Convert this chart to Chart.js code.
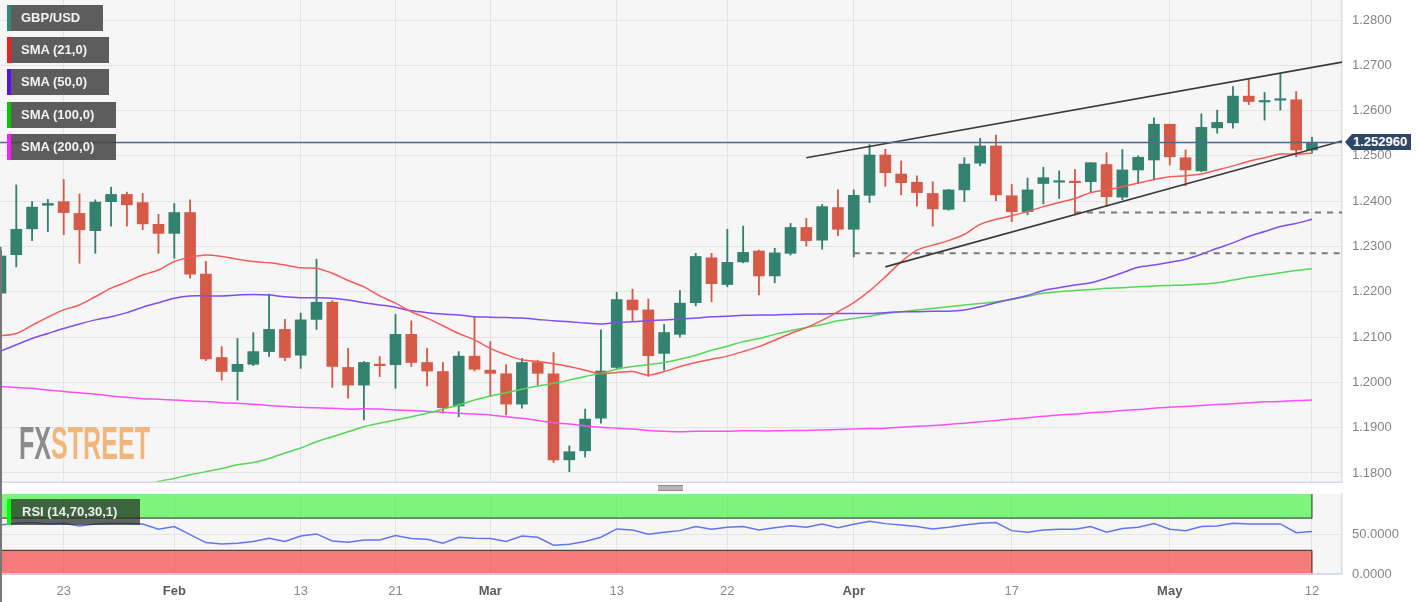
<!DOCTYPE html>
<html>
<head>
<meta charset="utf-8">
<script src="https://cdn.jsdelivr.net/npm/chart.js@4.4.0/dist/chart.umd.min.js"></script>
<style>
  body { margin:0; background:#fff; width:1421px; height:602px; overflow:hidden; position:relative; font-family:"Liberation Sans", Arial, sans-serif; }
  canvas { position:absolute; left:0; }
  #main { top:0; }
  #rsi { top:483px; }
  .tag { position:absolute; left:7px; height:26px; line-height:26px; background:rgba(70,70,70,0.87); color:#f2f2f2;
         font-weight:bold; font-size:13px; padding-left:10px; box-sizing:border-box; border-left:4px solid; white-space:nowrap; }
  #rsiTag { top:499px; width:133px; background:rgba(38,44,38,0.72); border-left-color:#00ff00; color:#eee; padding-left:11px; }
  #price { position:absolute; left:1345px; top:134px; width:66px; height:16px; line-height:16px; background:#2d4767; color:#fff;
           font-weight:bold; font-size:13px; padding-left:8px; box-sizing:border-box;
           clip-path:polygon(0 50%, 7px 0, 100% 0, 100% 100%, 7px 100%); }
  #handle { position:absolute; left:658px; top:485px; width:25px; height:6px; background:#b5b5b5;
            border-top:1px solid #8a8a8a; border-bottom:1px solid #8a8a8a; box-sizing:border-box; }
  #wm { position:absolute; left:19px; top:420px; font-family:"Liberation Sans Narrow", "Liberation Sans", sans-serif;
        font-weight:bold; font-size:46px; line-height:46px; transform-origin:0 0; white-space:nowrap; }
  #edge { position:absolute; left:0; top:250px; width:1.5px; height:352px; background:#777; }
</style>
</head>
<body>
<canvas id="main" width="1421" height="483"></canvas>
<canvas id="rsi" width="1421" height="119"></canvas>
<div id="wm"><span style="color:#8c8c8c">FX</span><span style="color:#f1b67c">STREET</span></div>
<div class="tag" style="top:5px;width:96px;border-left-color:#2e8b76">GBP/USD</div>
<div class="tag" style="top:37px;width:102px;border-left-color:#ff1a1a">SMA (21,0)</div>
<div class="tag" style="top:69px;width:102px;border-left-color:#5a10f0">SMA (50,0)</div>
<div class="tag" style="top:102px;width:109px;border-left-color:#00cc00">SMA (100,0)</div>
<div class="tag" style="top:134px;width:109px;border-left-color:#ff1aff">SMA (200,0)</div>
<div class="tag" id="rsiTag">RSI (14,70,30,1)</div>
<div id="price"></div>
<div id="handle"></div>
<div id="edge"></div>
<script>
// GBP/USD daily, 17 Jan - 12 May 2023
const days = [
  '01-17','01-18','01-19','01-20','01-23','01-24','01-25','01-26','01-27','01-30','01-31',
  '02-01','02-02','02-03','02-06','02-07','02-08','02-09','02-10','02-13','02-14','02-15','02-16','02-17','02-20','02-21','02-22','02-23','02-24','02-27','02-28',
  '03-01','03-02','03-03','03-06','03-07','03-08','03-09','03-10','03-13','03-14','03-15','03-16','03-17','03-20','03-21','03-22','03-23','03-24','03-27','03-28','03-29','03-30','03-31',
  '04-03','04-04','04-05','04-06','04-07','04-10','04-11','04-12','04-13','04-14','04-17','04-18','04-19','04-20','04-21','04-24','04-25','04-26','04-27','04-28',
  '05-01','05-02','05-03','05-04','05-05','05-08','05-09','05-10','05-11','05-12'
];
const opens = [
  1.2197,1.2282,1.2339,1.2391,1.2399,1.2373,1.2335,1.2399,1.2415,1.2397,1.2349,
  1.2329,1.2375,1.2239,1.2055,1.2024,1.2040,1.2068,1.2117,1.2060,1.2139,1.2177,1.2033,1.1994,1.2040,1.2039,1.2106,1.2044,1.2024,1.1948,1.2058,
  1.2027,1.2019,1.1952,1.2044,1.2019,1.1829,1.1849,1.1921,1.2033,1.2182,1.2160,1.2064,1.2106,1.2176,1.2275,1.2216,1.2266,1.2290,1.2235,1.2285,1.2342,1.2314,1.2386,
  1.2338,1.2413,1.2502,1.2460,1.2442,1.2417,1.2382,1.2425,1.2484,1.2522,1.2412,1.2377,1.2439,1.2442,1.2444,1.2443,1.2481,1.2409,1.2469,1.2491,
  1.2570,1.2496,1.2467,1.2562,1.2573,1.2632,1.2619,1.2623,1.2624,1.2513
];
const highs = [
  1.2299,1.2436,1.2399,1.2404,1.2448,1.2416,1.2403,1.2431,1.2420,1.2417,1.2371,
  1.2395,1.2403,1.2267,1.2079,1.2097,1.2110,1.2195,1.2139,1.2153,1.2272,1.2181,1.2075,1.2046,1.2057,1.2150,1.2136,1.2075,1.2044,1.2068,1.2145,
  1.2090,1.2039,1.2053,1.2049,1.2066,1.1860,1.1941,1.2116,1.2199,1.2206,1.2184,1.2128,1.2203,1.2285,1.2285,1.2338,1.2345,1.2292,1.2296,1.2351,1.2362,1.2393,1.2425,
  1.2425,1.2525,1.2515,1.2489,1.2456,1.2443,1.2426,1.2496,1.2539,1.2546,1.2437,1.2451,1.2475,1.2467,1.2470,1.2485,1.2507,1.2514,1.2500,1.2584,
  1.2570,1.2513,1.2593,1.2601,1.2653,1.2669,1.2640,1.2682,1.2642,1.2541
];
const lows = [
  1.2171,1.2255,1.2313,1.2333,1.2326,1.2263,1.2285,1.2345,1.2345,1.2337,1.2285,
  1.2274,1.2230,1.2048,1.2005,1.1961,1.2037,1.2057,1.2048,1.2031,1.2117,1.1989,1.1965,1.1917,1.2013,1.1987,1.2035,1.1992,1.1932,1.1924,1.2025,
  1.1969,1.1928,1.1943,1.1994,1.1823,1.1803,1.1835,1.1910,1.2030,1.2136,1.2013,1.2027,1.2100,1.2169,1.2178,1.2211,1.2264,1.2193,1.2220,1.2281,1.2301,1.2294,1.2324,
  1.2277,1.2397,1.2433,1.2414,1.2389,1.2345,1.2380,1.2399,1.2478,1.2401,1.2355,1.2370,1.2394,1.2406,1.2370,1.2419,1.2388,1.2403,1.2439,1.2447,
  1.2480,1.2434,1.2465,1.2550,1.2561,1.2613,1.2579,1.2601,1.2498,1.2506
];
const closes = [
  1.2279,1.2338,1.2387,1.2395,1.2375,1.2337,1.2398,1.2415,1.2392,1.2350,1.2329,
  1.2375,1.2239,1.2052,1.2024,1.2040,1.2068,1.2117,1.2055,1.2138,1.2177,1.2035,1.1994,1.2044,1.2037,1.2106,1.2044,1.2025,1.1944,1.2058,1.2029,
  1.2020,1.1952,1.2044,1.2020,1.1829,1.1847,1.1919,1.2025,1.2183,1.2160,1.2059,1.2110,1.2175,1.2278,1.2218,1.2265,1.2287,1.2235,1.2286,1.2342,1.2313,1.2388,1.2338,
  1.2413,1.2502,1.2463,1.2441,1.2419,1.2383,1.2425,1.2482,1.2522,1.2414,1.2377,1.2425,1.2452,1.2445,1.2441,1.2485,1.2410,1.2469,1.2497,1.2570,
  1.2498,1.2469,1.2563,1.2574,1.2632,1.2620,1.2622,1.2625,1.2513,1.25296
];
const sma21 = [
  1.2103,1.2108,1.2126,1.2144,1.2160,1.2171,1.2189,1.2208,1.2222,1.2237,1.2248,
  1.2267,1.2276,1.2281,1.2278,1.2272,1.2267,1.2264,1.2259,1.2253,1.2252,1.2241,1.2225,
  1.2211,1.2191,1.2175,1.2156,1.2142,1.2125,1.2108,1.2094,1.2075,1.2061,1.2050,1.2046,1.2041,1.2035,1.2027,1.2019,1.2022,1.2024,1.2016,1.2024,1.2035,1.2044,
  1.2051,1.2058,1.2068,1.2079,1.2093,1.2108,1.2121,1.2137,1.2156,1.2176,1.2202,1.2233,1.2266,1.2292,1.2303,1.2313,1.2327,1.2349,1.2360,1.2368,1.2377,
  1.2388,1.2397,1.2406,1.2419,1.2425,1.2432,1.2440,1.2448,1.2454,1.2456,1.2460,1.2469,1.2478,1.2488,1.2496,1.2504,1.2504,1.2506
];
const sma50 = [
  1.2069,1.2083,1.2097,1.2108,1.2119,1.2129,1.2138,1.2145,1.2154,1.2166,1.2176,1.2186,
  1.2191,1.2191,1.2191,1.2193,1.2194,1.2193,1.2189,1.2187,1.2187,1.2186,1.2182,
  1.2176,1.2171,1.2166,1.2158,1.2154,1.2151,1.2149,1.2145,1.2144,1.2143,1.2142,1.2139,1.2136,1.2134,1.2131,1.2129,1.2132,1.2134,1.2136,1.2138,1.2140,1.2142,
  1.2145,1.2146,1.2148,1.2149,1.2149,1.2150,1.2151,1.2151,1.2152,1.2152,1.2152,1.2154,1.2156,1.2156,1.2157,1.2157,1.2160,1.2167,1.2176,1.2184,1.2192,
  1.2203,1.2209,1.2215,1.2220,1.2230,1.2242,1.2254,1.2259,1.2265,1.2272,1.2283,1.2296,1.2308,1.2322,1.2333,1.2344,1.2351,1.2360
];
const sma100 = [
  null,null,null,null,null,null,null,null,null,1.1770,1.1781,
  1.1788,1.1796,1.1803,1.1810,1.1818,1.1823,1.1832,1.1844,1.1855,1.1869,1.1880,1.1891,
  1.1902,1.1910,1.1917,1.1924,1.1932,1.1941,1.1950,1.1961,1.1970,1.1977,1.1985,1.1992,1.1998,1.2005,1.2013,1.2020,1.2029,1.2035,1.2039,1.2044,1.2051,1.2060,
  1.2071,1.2080,1.2090,1.2097,1.2106,1.2114,1.2121,1.2128,1.2136,1.2141,1.2146,1.2152,1.2156,1.2160,1.2163,1.2167,1.2171,1.2174,1.2178,1.2183,1.2190,
  1.2197,1.2200,1.2203,1.2205,1.2208,1.2209,1.2211,1.2213,1.2214,1.2215,1.2217,1.2220,1.2226,1.2232,1.2237,1.2242,1.2247,1.2251
];
const sma200 = [
  1.1991,1.1989,1.1987,1.1983,1.1980,1.1977,1.1974,1.1970,1.1967,1.1964,1.1963,
  1.1961,1.1959,1.1958,1.1955,1.1954,1.1952,1.1949,1.1947,1.1945,1.1944,1.1943,1.1941,
  1.1942,1.1941,1.1939,1.1938,1.1936,1.1934,1.1932,1.1930,1.1928,1.1924,1.1921,1.1916,1.1911,1.1908,1.1904,1.1901,1.1899,1.1897,1.1894,1.1892,1.1891,1.1892,
  1.1892,1.1892,1.1893,1.1893,1.1893,1.1894,1.1894,1.1895,1.1896,1.1897,1.1898,1.1899,1.1901,1.1903,1.1905,1.1907,1.1910,1.1913,1.1916,1.1919,1.1922,
  1.1925,1.1928,1.1930,1.1933,1.1935,1.1938,1.1940,1.1943,1.1945,1.1947,1.1949,1.1951,1.1953,1.1955,1.1957,1.1958,1.1960,1.1961
];
const rsi = [
  61.5,63.6,64.5,62.8,63.6,60.3,62.8,63.6,63.6,62.8,56.2,
  59.5,49.6,39.6,38.0,38.8,40.9,45.0,40.9,47.9,50.4,41.7,40.0,42.9,42.9,48.3,44.6,43.8,38.8,46.3,45.0,
  44.6,40.9,47.9,46.3,36.3,37.5,40.9,46.3,56.6,55.4,50.0,52.4,54.5,59.5,56.2,58.6,59.5,55.4,58.2,60.7,58.6,62.8,58.2,
  62.4,66.1,63.2,61.5,59.5,56.6,58.6,61.5,63.6,64.5,54.5,52.4,55.4,56.2,56.2,59.5,52.4,57.0,58.6,63.2,
  56.2,54.5,59.5,60.3,63.6,62.8,62.8,62.8,52.0,53.3
];
// trend channel and support levels (candle index, price)
const channelTop = [{x: 51, y: 1.2496}, {x: 84.9, y: 1.2707}];
const channelBottom = [{x: 56, y: 1.2255}, {x: 84.9, y: 1.2533}];
const support1 = [{x: 68, y: 1.2375}, {x: 84.9, y: 1.2375}];
const support2 = [{x: 54, y: 1.2285}, {x: 84.9, y: 1.2285}];
const priceTicks = [1.18,1.19,1.20,1.21,1.22,1.23,1.24,1.25,1.26,1.27,1.28];
const rsiTicks = [0, 50];
const dateTickIdx = [4, 11, 19, 25, 31, 39, 46, 54, 64, 74, 83];
const dateTickLabels = ['23', 'Feb', '13', '21', 'Mar', '13', '22', 'Apr', '17', 'May', '12'];

const FONT = '"Liberation Sans", Arial, sans-serif';
const UP = '#338270', DOWN = '#d65a48';
const GRID = '#e4e4e4', FRAME = '#d5dbe4';
const X_MIN = -0.03, X_MAX = 84.9;
const last = closes.length - 1;

const candleColors = closes.map((c, i) => c >= opens[i] ? UP : DOWN);
const pts = arr => arr.map((v, i) => ({x: i, y: v}));

const panelBg = {
  id: 'panelBg',
  beforeDraw(chart) {
    const a = chart.chartArea, c = chart.ctx;
    c.save();
    c.fillStyle = '#f6f6f6';
    c.fillRect(a.left, a.top, a.right - a.left, a.bottom - a.top);
    c.restore();
  },
  afterDraw(chart) {
    const a = chart.chartArea, c = chart.ctx;
    c.save();
    c.strokeStyle = FRAME;
    c.lineWidth = 1.5;
    c.beginPath();
    c.moveTo(a.left, a.bottom - 0.75);
    c.lineTo(a.right, a.bottom - 0.75);
    c.stroke();
    c.restore();
  }
};

const lastPrice = {
  id: 'lastPrice',
  afterDatasetsDraw(chart) {
    const a = chart.chartArea, c = chart.ctx;
    const y = chart.scales.y.getPixelForValue(closes[last]);
    c.save();
    c.strokeStyle = '#50698c';
    c.lineWidth = 1.5;
    c.beginPath();
    c.moveTo(a.left, y);
    c.lineTo(a.right, y);
    c.stroke();
    c.restore();
  }
};

const xTicks = s => { s.ticks = dateTickIdx.map(v => ({value: v})); };
// right axis: fixed width, and no extra room reserved for the end labels
const fitRight = s => { s.width = 79; s.paddingTop = 0; s.paddingBottom = 0; };

new Chart(document.getElementById('main'), {
  type: 'bar',
  data: {
    datasets: [
      {type: 'line', data: channelTop, borderColor: '#3a3a3a', borderWidth: 1.6, pointRadius: 0, order: 0},
      {type: 'line', data: channelBottom, borderColor: '#3a3a3a', borderWidth: 1.6, pointRadius: 0, order: 0},
      {type: 'line', data: support1, borderColor: '#7a7a7a', borderWidth: 2, borderDash: [6, 6], pointRadius: 0, order: 0},
      {type: 'line', data: support2, borderColor: '#7a7a7a', borderWidth: 2, borderDash: [6, 6], pointRadius: 0, order: 0},
      {type: 'line', data: pts(sma21), borderColor: '#f65b5b', borderWidth: 1.5, pointRadius: 0, tension: 0.3, order: 1},
      {type: 'line', data: pts(sma50), borderColor: '#7f4df2', borderWidth: 1.5, pointRadius: 0, tension: 0.3, order: 1},
      {type: 'line', data: pts(sma100), borderColor: '#56d656', borderWidth: 1.5, pointRadius: 0, tension: 0.3, order: 1},
      {type: 'line', data: pts(sma200), borderColor: '#f950f9', borderWidth: 1.5, pointRadius: 0, tension: 0.3, order: 1},
      {data: days.map((d, i) => ({x: i, y: [opens[i], closes[i]]})), backgroundColor: candleColors,
       barThickness: 11, minBarLength: 1.5, grouped: false, order: 2},
      {data: days.map((d, i) => ({x: i, y: [lows[i], highs[i]]})), backgroundColor: candleColors,
       barThickness: 1.2, grouped: false, order: 3}
    ]
  },
  options: {
    responsive: false,
    animation: false,
    events: [],
    layout: {padding: 0},
    plugins: {legend: {display: false}, tooltip: {enabled: false}},
    scales: {
      x: {
        type: 'linear', min: X_MIN, max: X_MAX, offset: false,
        grid: {color: GRID, drawTicks: false, offset: false},
        border: {display: false},
        ticks: {display: false},
        afterBuildTicks: xTicks,
        afterFit: s => { s.height = 0; s.paddingLeft = 0; s.paddingRight = 0; }
      },
      y: {
        position: 'right', min: 1.17779, max: 1.28442,
        afterBuildTicks: s => { s.ticks = priceTicks.map(v => ({value: v})); },
        grid: {color: GRID, drawTicks: false},
        border: {color: FRAME, width: 1.5},
        ticks: {callback: v => v.toFixed(4), color: '#858585', padding: 10, font: {family: FONT, size: 13}},
        afterFit: fitRight
      }
    }
  },
  plugins: [panelBg, lastPrice]
});

const rsiBands = {
  id: 'rsiBands',
  beforeDatasetsDraw(chart) {
    const a = chart.chartArea, c = chart.ctx, ys = chart.scales.y;
    const xr = chart.scales.x.getPixelForValue(last);
    const bands = [
      {from: 70, to: 100, fill: 'rgba(0,246,0,0.5)', edge: 70},
      {from: 0, to: 30, fill: 'rgba(246,0,0,0.5)', edge: 30}
    ];
    c.save();
    bands.forEach(b => {
      const y1 = ys.getPixelForValue(b.to), y2 = ys.getPixelForValue(b.from);
      c.fillStyle = b.fill;
      c.fillRect(a.left, y1, xr - a.left, y2 - y1);
      c.strokeStyle = 'rgba(30,30,30,0.75)';
      c.lineWidth = 1.2;
      c.beginPath();
      const ye = ys.getPixelForValue(b.edge);
      c.moveTo(a.left, ye);
      c.lineTo(xr, ye);
      c.moveTo(xr, y1);
      c.lineTo(xr, y2);
      c.stroke();
    });
    c.restore();
  }
};

new Chart(document.getElementById('rsi'), {
  type: 'line',
  data: {
    datasets: [
      {data: pts(rsi), borderColor: '#6474f0', borderWidth: 1.5, pointRadius: 0, tension: 0}
    ]
  },
  options: {
    responsive: false,
    animation: false,
    events: [],
    layout: {padding: {top: 11}},
    plugins: {legend: {display: false}, tooltip: {enabled: false}},
    scales: {
      x: {
        type: 'linear', min: X_MIN, max: X_MAX, offset: false,
        grid: {color: GRID, drawTicks: false},
        border: {display: false},
        afterBuildTicks: xTicks,
        ticks: {
          autoSkip: false, maxRotation: 0, padding: 9,
          callback: v => dateTickLabels[dateTickIdx.indexOf(v)],
          color: ctx => isNaN(dateTickLabels[ctx.index]) ? '#5c5c5c' : '#8a8a8a',
          font: ctx => ({family: FONT, size: 13, weight: isNaN(dateTickLabels[ctx.index]) ? 'bold' : 'normal'})
        },
        afterFit: s => { s.height = 27.5; s.paddingLeft = 0; s.paddingRight = 0; }
      },
      y: {
        position: 'right', min: 0, max: 100,
        afterBuildTicks: s => { s.ticks = rsiTicks.map(v => ({value: v})); },
        grid: {color: GRID, drawTicks: false},
        border: {color: FRAME, width: 1.5},
        ticks: {callback: v => v.toFixed(4), color: '#858585', padding: 10, font: {family: FONT, size: 13}},
        afterFit: fitRight
      }
    }
  },
  plugins: [panelBg, rsiBands]
});

document.getElementById('price').textContent = closes[last].toFixed(6);

// squeeze the watermark to the width it has in the picture
const wm = document.getElementById('wm');
wm.style.transform = 'scaleX(' + (131 / wm.getBoundingClientRect().width) + ')';
</script>
</body>
</html>
